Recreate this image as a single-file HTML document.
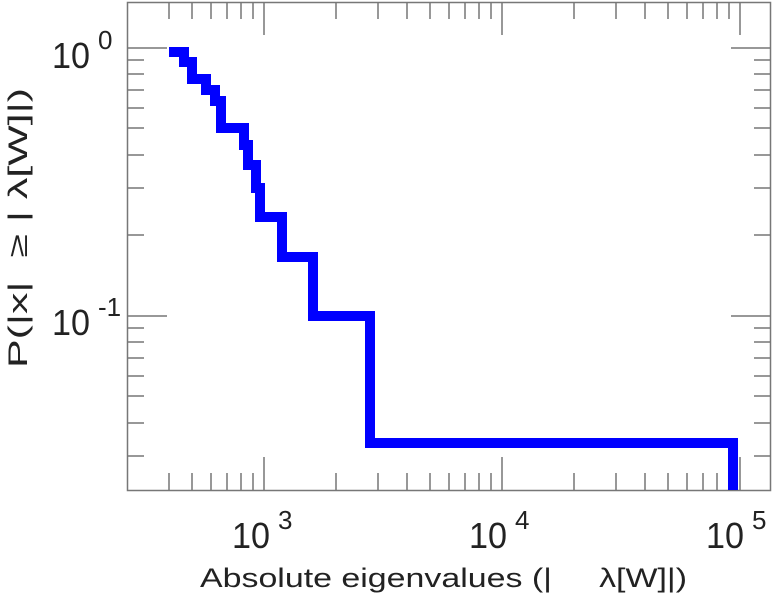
<!DOCTYPE html>
<html><head><style>html,body{margin:0;padding:0;background:#fff;}svg{display:block;}text{white-space:pre;}</style></head>
<body>
<svg width="775" height="600" viewBox="0 0 775 600" xmlns="http://www.w3.org/2000/svg" font-family="Liberation Sans, DejaVu Sans, sans-serif" fill="#222">
<g stroke="#777" stroke-width="1.5" fill="none">
<rect x="127.5" y="2.5" width="643" height="488"/>
<path d="M169 490v-17M192 490v-17M211 490v-17M227 490v-17M241 490v-17M253 490v-17M264 490v-33
M336 490v-17M378 490v-17M407 490v-17M430 490v-17M449 490v-17M465 490v-17M479 490v-17M491 490v-17M502 490v-33
M574 490v-17M616 490v-17M645 490v-17M668 490v-17M687 490v-17M703 490v-17M717 490v-17M729 490v-17M740 490v-33
M169 2v17M192 2v17M211 2v17M227 2v17M241 2v17M253 2v17M264 2v33
M336 2v17M378 2v17M407 2v17M430 2v17M449 2v17M465 2v17M479 2v17M491 2v17M502 2v33
M574 2v17M616 2v17M645 2v17M668 2v17M687 2v17M703 2v17M717 2v17M729 2v17M740 2v33"/>
<path d="M127 48h40M127 60h17M127 74h17M127 90h17M127 108h17M127 128h17M127 155h17M127 188h17M127 235h17M127 316h40M127 328h17M127 342h17M127 358h17M127 376h17M127 396h17M127 423h17M127 456h17
M771 48h-40M771 60h-17M771 74h-17M771 90h-17M771 108h-17M771 128h-17M771 155h-17M771 188h-17M771 235h-17M771 316h-40M771 328h-17M771 342h-17M771 358h-17M771 376h-17M771 396h-17M771 423h-17M771 456h-17"/>
</g>
<path d="M169 52H184V62H192V79H206V90H215V101H221V128H244V145H248V165H256V188H260V217H282V257H313V316H370V443H733V490" fill="none" stroke="#0000ff" stroke-width="10"/>
<g font-size="36">
<text x="52" y="68" textLength="38" lengthAdjust="spacingAndGlyphs">10</text><text x="98" y="49" font-size="26">0</text>
<text x="52" y="335" textLength="38" lengthAdjust="spacingAndGlyphs">10</text><text x="98" y="316" font-size="26">-1</text>
<text x="232" y="548" textLength="38" lengthAdjust="spacingAndGlyphs">10</text><text x="278" y="529" font-size="26">3</text>
<text x="469" y="548" textLength="38" lengthAdjust="spacingAndGlyphs">10</text><text x="515" y="529" font-size="26">4</text>
<text x="706" y="548" textLength="38" lengthAdjust="spacingAndGlyphs">10</text><text x="752" y="529" font-size="26">5</text>
</g>
<text x="200" y="587" font-size="27" textLength="487" lengthAdjust="spacingAndGlyphs">Absolute eigenvalues (|     λ[W]|)</text>
<text transform="translate(27,228) rotate(-90)" text-anchor="middle" font-size="27" textLength="280" lengthAdjust="spacingAndGlyphs">P(|x|  ≥ | λ[W]|)</text>
</svg>
</body></html>
